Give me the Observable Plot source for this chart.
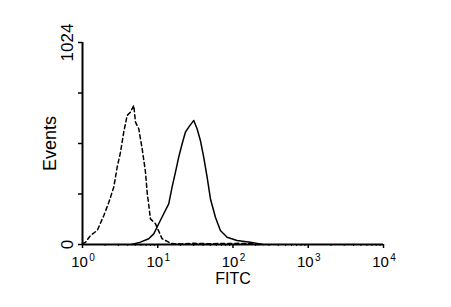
<!DOCTYPE html>
<html><head><meta charset="utf-8">
<script src="https://cdn.jsdelivr.net/npm/d3@7"></script>
<script src="https://cdn.jsdelivr.net/npm/@observablehq/plot@0.6"></script>
<style>body{margin:0;background:#fff}svg{display:block}</style>
</head><body><div id="chart"></div>
<script>
// Isotype control (dashed)
const controlX = [1.0, 1.10, 1.28, 1.57, 1.92, 2.24, 2.60, 2.89, 3.20, 3.53, 3.92, 4.34, 4.80, 5.06, 5.59, 6.21, 6.87, 7.23, 8.00, 9.31, 11.4, 15, 20, 30, 50, 80, 120, 180, 220];
const controlY = [4, 12, 46, 71, 147, 214, 290, 392, 468, 569, 654, 671, 705, 620, 587, 485, 367, 265, 130, 106, 30, 5, 3, 6, 4, 5, 6, 4, 0];
// FITC stained (solid)
const stainedX = [4.5, 5.89, 7.59, 8.85, 10.3, 12.0, 14.0, 15.5, 17.2, 19.0, 21.1, 23.3, 25.8, 30.1, 33.3, 36.9, 40.8, 45.3, 50.1, 58.4, 68.0, 83.5, 113, 170, 250];
const stainedY = [0, 12, 29, 54, 105, 156, 206, 291, 367, 443, 511, 569, 595, 629, 587, 527, 443, 341, 232, 138, 71, 37, 20, 12, 0];

const yTicks = [0, 256, 512, 768, 1024];
const yLabels = [0, 1024];
const decades = [1, 10, 100, 1000, 10000];
const exponents = ["0", "1", "2", "3", "4"];
const minorMult = [2, 3, 4, 5, 6, 7, 8, 9];
const minorTicks = decades.slice(0, -1).flatMap(d => minorMult.map(m => m * d));

const control = controlX.map((x, i) => ({x, y: controlY[i]}));
const stained = stainedX.map((x, i) => ({x, y: stainedY[i]}));
const decadeLabels = decades.map((d, i) => ({d, e: exponents[i]}));

const regular = "'Liberation Sans', Arial, sans-serif";

const chart = Plot.plot({
  width: 451, height: 307,
  marginTop: 42, marginRight: 68, marginBottom: 63, marginLeft: 82,
  x: {type: "log", domain: [1, 10000]},
  y: {domain: [0, 1024]},
  style: {fontFamily: regular, background: "#fff", color: "#000"},
  marks: [
    Plot.axisY({ticks: yTicks, tickSize: 4, tickFormat: () => "", strokeWidth: 1.5, label: null}),
    Plot.axisX({ticks: minorTicks, tickSize: 2, tickFormat: () => "", strokeWidth: 1, label: null}),
    Plot.axisX({ticks: decades, tickSize: 4, tickFormat: () => "", strokeWidth: 1.5, label: null}),
    Plot.line(control, {x: "x", y: "y", stroke: "#000", strokeWidth: 1.5, strokeDasharray: "4,3"}),
    Plot.line(stained, {x: "x", y: "y", stroke: "#000", strokeWidth: 1.5}),
    Plot.ruleY([0], {stroke: "#000", strokeWidth: 2}),
    Plot.ruleX([1], {stroke: "#000", strokeWidth: 2}),
    Plot.text(yLabels, {x: 1, y: d => d, text: d => String(d), rotate: -90, dx: -15, fontSize: 17, fontFamily: regular, textAnchor: "middle", fill: "#000"}),
    Plot.text(decadeLabels, {x: "d", y: 0, text: () => "10", dx: -3, dy: 18, fontSize: 15, fontFamily: regular, textAnchor: "middle", fill: "#000"}),
    Plot.text(decadeLabels, {x: "d", y: 0, text: "e", dx: 9.5, dy: 13, fontSize: 10, fontFamily: regular, textAnchor: "middle", fill: "#000"}),
    Plot.text(["FITC"], {frameAnchor: "bottom", dy: 39, text: d => d, fontSize: 16, fontFamily: regular, fill: "#000"}),
    Plot.text(["Events"], {frameAnchor: "left", dx: -32, text: d => d, rotate: -90, textAnchor: "middle", fontSize: 18, fontFamily: regular, fill: "#000"})
  ]
});
document.getElementById("chart").appendChild(chart);
</script>
</body></html>
